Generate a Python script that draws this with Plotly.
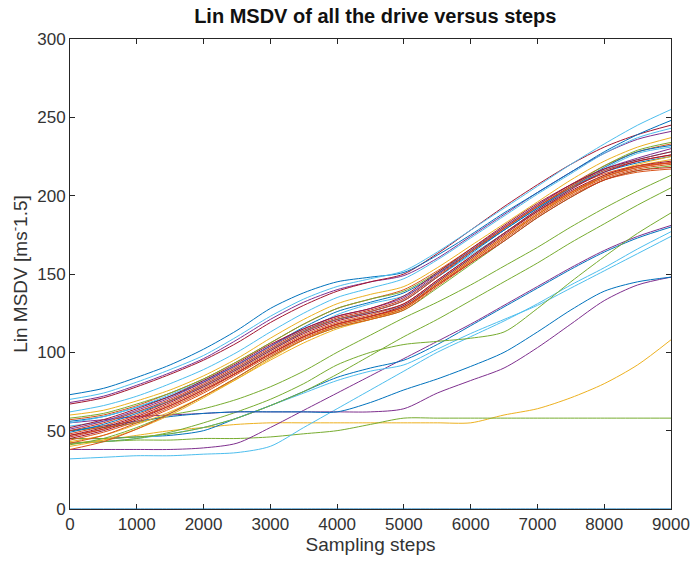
import plotly.graph_objects as go

steps = [0, 500, 1000, 1500, 2000, 2500, 3000, 3500, 4000, 4500,
         5000, 5500, 6000, 6500, 7000, 7500, 8000, 8500, 9000]

# ---- upper group of drives
t1 = [70, 74, 81, 89, 98, 110, 123, 134, 142, 147, 152, 164, 178, 192, 206, 220, 233, 245, 255]
t2 = [73, 77, 84, 92, 102, 114, 128, 138, 145, 148, 151, 162, 175, 189, 202, 215, 228, 239, 248]
t3 = [67, 71, 78, 86, 95, 106, 119, 130, 139, 145, 150, 163, 178, 193, 207, 220, 231, 239, 245]
t4 = [62, 66, 72, 80, 89, 100, 113, 125, 135, 141, 147, 159, 173, 187, 201, 214, 227, 237, 243]
t5 = [68, 72, 79, 87, 96, 108, 121, 132, 140, 145, 149, 160, 174, 188, 202, 215, 227, 236, 241]
t6 = [60, 63, 69, 76, 85, 96, 109, 121, 131, 137, 142, 154, 168, 182, 196, 210, 222, 231, 237]
t7 = [58, 61, 67, 74, 83, 94, 106, 118, 128, 134, 139, 151, 165, 179, 193, 206, 219, 229, 234]
t8 = [56, 59, 65, 72, 81, 92, 104, 116, 126, 132, 138, 150, 164, 178, 192, 205, 218, 228, 232]
t9 = [53, 56, 62, 69, 78, 89, 101, 113, 124, 131, 136, 148, 162, 176, 190, 204, 217, 227, 231]
t10 = [57, 60, 66, 74, 83, 94, 106, 118, 128, 134, 140, 152, 166, 180, 194, 207, 219, 228, 233]

# ---- main bundle
b1 = [45, 50, 57, 66, 76, 87, 99, 110, 118, 123, 130, 145, 160, 175, 190, 203, 213, 219, 222]
b2 = [42, 47, 55, 64, 74, 86, 98, 109, 117, 122, 128, 143, 158, 173, 188, 201, 211, 217, 220]
b3 = [50, 55, 62, 70, 80, 91, 103, 114, 122, 127, 134, 149, 164, 179, 193, 206, 216, 222, 226]
b4 = [47, 51, 58, 67, 77, 88, 100, 111, 119, 124, 131, 146, 161, 176, 190, 202, 212, 218, 221]
b5 = [40, 44, 51, 60, 71, 83, 96, 108, 117, 122, 129, 144, 159, 174, 188, 201, 212, 219, 223]
b6 = [52, 57, 64, 72, 82, 93, 105, 115, 123, 128, 136, 151, 166, 181, 195, 207, 217, 223, 228]
b7 = [49, 54, 61, 69, 79, 90, 102, 113, 121, 126, 133, 148, 163, 178, 192, 205, 215, 221, 225]
b8 = [51, 56, 63, 71, 81, 92, 104, 115, 123, 128, 135, 150, 165, 180, 194, 207, 217, 224, 230]
b9 = [44, 49, 56, 65, 75, 87, 99, 110, 118, 123, 129, 144, 159, 174, 189, 202, 212, 218, 221]
b10 = [46, 51, 58, 66, 76, 87, 99, 110, 118, 123, 129, 143, 157, 171, 186, 199, 210, 216, 218]
b11 = [41, 45, 52, 61, 72, 84, 97, 108, 116, 121, 127, 141, 156, 171, 186, 199, 210, 216, 219]
b12 = [55, 59, 65, 73, 82, 92, 104, 114, 121, 125, 130, 145, 160, 176, 191, 205, 216, 223, 228]
b13 = [38, 43, 51, 61, 72, 84, 97, 108, 116, 121, 127, 142, 157, 172, 187, 200, 210, 215, 217]
b14 = [48, 53, 60, 69, 79, 90, 102, 113, 121, 126, 133, 148, 164, 179, 193, 205, 214, 219, 221]
b15 = [43, 47, 54, 62, 72, 83, 95, 106, 115, 121, 128, 143, 158, 173, 188, 202, 213, 220, 225]
b16 = [47, 52, 59, 68, 78, 89, 101, 112, 120, 125, 131, 146, 161, 176, 191, 204, 215, 222, 226]

# ---- lower, late-rising drives
ga = [50, 52, 55, 60, 64, 70, 78, 88, 100, 111, 122, 132, 143, 155, 167, 180, 192, 203, 213]
gb = [45, 45, 46, 48, 52, 58, 66, 75, 86, 98, 110, 121, 133, 145, 157, 170, 182, 194, 205]
gc = [42, 43, 45, 49, 55, 62, 70, 80, 92, 100, 105, 107, 109, 113, 128, 145, 161, 176, 189]
c2 = [42, 43, 45, 48, 52, 58, 66, 74, 82, 88, 92, 102, 112, 121, 130, 141, 152, 163, 174]
bl2 = [45, 45, 46, 47, 50, 58, 66, 75, 84, 90, 95, 105, 117, 129, 141, 153, 164, 173, 180]
p2 = [38, 38, 38, 38, 39, 42, 52, 63, 74, 85, 96, 107, 118, 130, 142, 154, 165, 174, 181]
c1 = [32, 33, 34, 34, 35, 36, 40, 52, 64, 76, 88, 100, 110, 120, 131, 143, 154, 166, 177]
p1 = [55, 57, 59, 60, 61, 62, 62, 62, 62, 62, 64, 74, 82, 90, 103, 118, 133, 143, 148]
bl1 = [50, 53, 56, 59, 61, 62, 62, 62, 62, 68, 76, 83, 91, 100, 113, 127, 139, 145, 148]
gf = [42, 43, 44, 44, 45, 45, 46, 48, 50, 54, 58, 58, 58, 58, 58, 58, 58, 58, 58]
y1 = [42, 44, 47, 50, 52, 54, 55, 55, 55, 55, 55, 55, 55, 60, 64, 71, 80, 92, 108]
z0 = [0] * 19

x_ticks = [0, 1000, 2000, 3000, 4000, 5000, 6000, 7000, 8000, 9000]
y_ticks = [0, 50, 100, 150, 200, 250, 300]

BLUE, ORANGE, YELLOW, PURPLE, GREEN, CYAN, RED = (
    "#0072BD", "#D95319", "#EDB120", "#7E2F8E", "#77AC30", "#4DBEEE", "#A2142F")

series = [
    (z0, BLUE),
    (y1, YELLOW), (gf, GREEN), (c1, CYAN), (p2, PURPLE), (bl2, BLUE), (c2, CYAN),
    (gc, GREEN), (gb, GREEN), (ga, GREEN), (p1, PURPLE), (bl1, BLUE),
    (t10, ORANGE), (t9, CYAN), (t8, BLUE), (t7, GREEN), (t6, YELLOW), (t5, PURPLE),
    (t4, CYAN), (t3, RED), (t2, BLUE), (t1, CYAN),
    (b11, GREEN), (b12, CYAN), (b7, BLUE), (b8, PURPLE), (b5, YELLOW), (b15, YELLOW),
    (b2, ORANGE), (b9, ORANGE), (b13, ORANGE), (b4, ORANGE),
    (b1, RED), (b3, "#D03A1E"), (b6, RED), (b10, "#C8321C"), (b14, "#D9441A"), (b16, RED),
]

fig = go.Figure()
for vals, col in series:
    fig.add_trace(go.Scatter(x=steps, y=vals, mode="lines",
                             line=dict(color=col, width=1, shape="spline", smoothing=0.8),
                             showlegend=False, hoverinfo="skip"))

FONT = "Liberation Sans, Arial, Helvetica"
axis_common = dict(showline=True, linecolor="#262626", linewidth=1, mirror="ticks",
                   ticks="inside", ticklen=5, tickcolor="#262626", showgrid=False,
                   zeroline=False, tickfont=dict(family=FONT, size=17, color="#333333"),
                   layer="below traces", automargin=False)

fig.update_layout(
    width=695, height=569,
    margin=dict(l=70, r=24, t=39, b=60),
    paper_bgcolor="white", plot_bgcolor="white",
    title=dict(text="<b>Lin MSDV of all the drive versus steps</b>",
               x=0.54, xanchor="center", y=0.972, yanchor="middle",
               font=dict(family=FONT, size=20, color="#111111")),
    xaxis=dict(range=[0, 9000], tickvals=x_ticks,
               title=dict(text="Sampling steps", standoff=4,
                          font=dict(family=FONT, size=19, color="#333333")),
               **axis_common),
    yaxis=dict(range=[0, 300], tickvals=y_ticks,
               title=dict(text="Lin MSDV [ms<sup>-</sup>1.5]", standoff=4,
                          font=dict(family=FONT, size=19, color="#333333")),
               **axis_common),
)

fig.write_html("out.html")
